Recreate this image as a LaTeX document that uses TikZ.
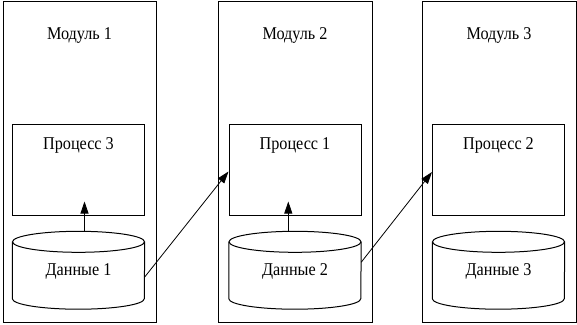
\documentclass[tikz,border=0pt]{standalone}
\usepackage{fontspec}
\setmainfont{Liberation Serif}
\usetikzlibrary{arrows.meta}
\newcommand{\lbltext}[1]{\scalebox{0.9}[1]{#1}}
\tikzset{
  modbox/.style={draw, line width=1pt, minimum width=154pt, minimum height=321pt, inner sep=0pt},
  procbox/.style={draw, line width=1pt, minimum width=132pt, minimum height=91pt, inner sep=0pt},
  datashape/.style={minimum width=132pt, minimum height=56.5pt, inner sep=0pt},
  cyl/.style={line width=1pt},
  txt/.style={font=\fontsize{18pt}{20pt}\selectfont, inner sep=0pt, anchor=base},
  arr/.style={line width=0.8pt, -{Triangle[length=12pt,width=8pt]}}
}
\begin{document}
\begin{tikzpicture}[x=1pt,y=-1pt]
\useasboundingbox (0,0) rectangle (577,324);
% modules
\node[modbox, minimum width=153pt] (m1) at (79.5,161.5) {};
\node[modbox] (m2) at (295,161.5) {};
\node[modbox] (m3) at (499,161.5) {};
\node[txt] (m1t) at (79.5,39.5) {\lbltext{Модуль 1}};
\node[txt] (m2t) at (295,39.5) {\lbltext{Модуль 2}};
\node[txt] (m3t) at (499,39.5) {\lbltext{Модуль 3}};
% processes
\node[procbox] (p3) at (78.5,169.5) {};
\node[procbox] (p1) at (295,169.5) {};
\node[procbox] (p2) at (498.5,169.5) {};
\node[txt] (p3t) at (78.5,149) {\lbltext{Процесс 3}};
\node[txt] (p1t) at (295,149) {\lbltext{Процесс 1}};
\node[txt] (p2t) at (498.5,149) {\lbltext{Процесс 2}};
% data stores
\foreach \n/\x in {d1/78.5, d2/295, d3/498.5}{
  \node[datashape] (\n) at (\x,270.25) {};
  \draw[cyl] (\n.north west) -- (\n.south west)
     arc[start angle=180, end angle=360, x radius=66pt, y radius=10.5pt]
     -- (\n.north east);
  \draw[cyl] (\n.north) ellipse [x radius=66pt, y radius=10.5pt];
}
\node[txt] (d1t) at (78.5,275.7) {\lbltext{Данные 1}};
\node[txt] (d2t) at (295,275.7) {\lbltext{Данные 2}};
\node[txt] (d3t) at (498.5,275.7) {\lbltext{Данные 3}};
% connectors
\draw[arr] ([xshift=6pt,yshift=10.5pt]d1.north) -- ([xshift=6pt,yshift=14pt]p3.south);
\draw[arr] ([xshift=-6.7pt,yshift=10.5pt]d2.north) -- ([xshift=-6.7pt,yshift=14pt]p1.south);
\draw[arr] ([yshift=-6.75pt]d1.east) -- ([yshift=-2pt]p1.west);
\draw[arr] ([yshift=8pt]d2.east) -- ([yshift=-2.5pt]p2.west);
\end{tikzpicture}
\end{document}
